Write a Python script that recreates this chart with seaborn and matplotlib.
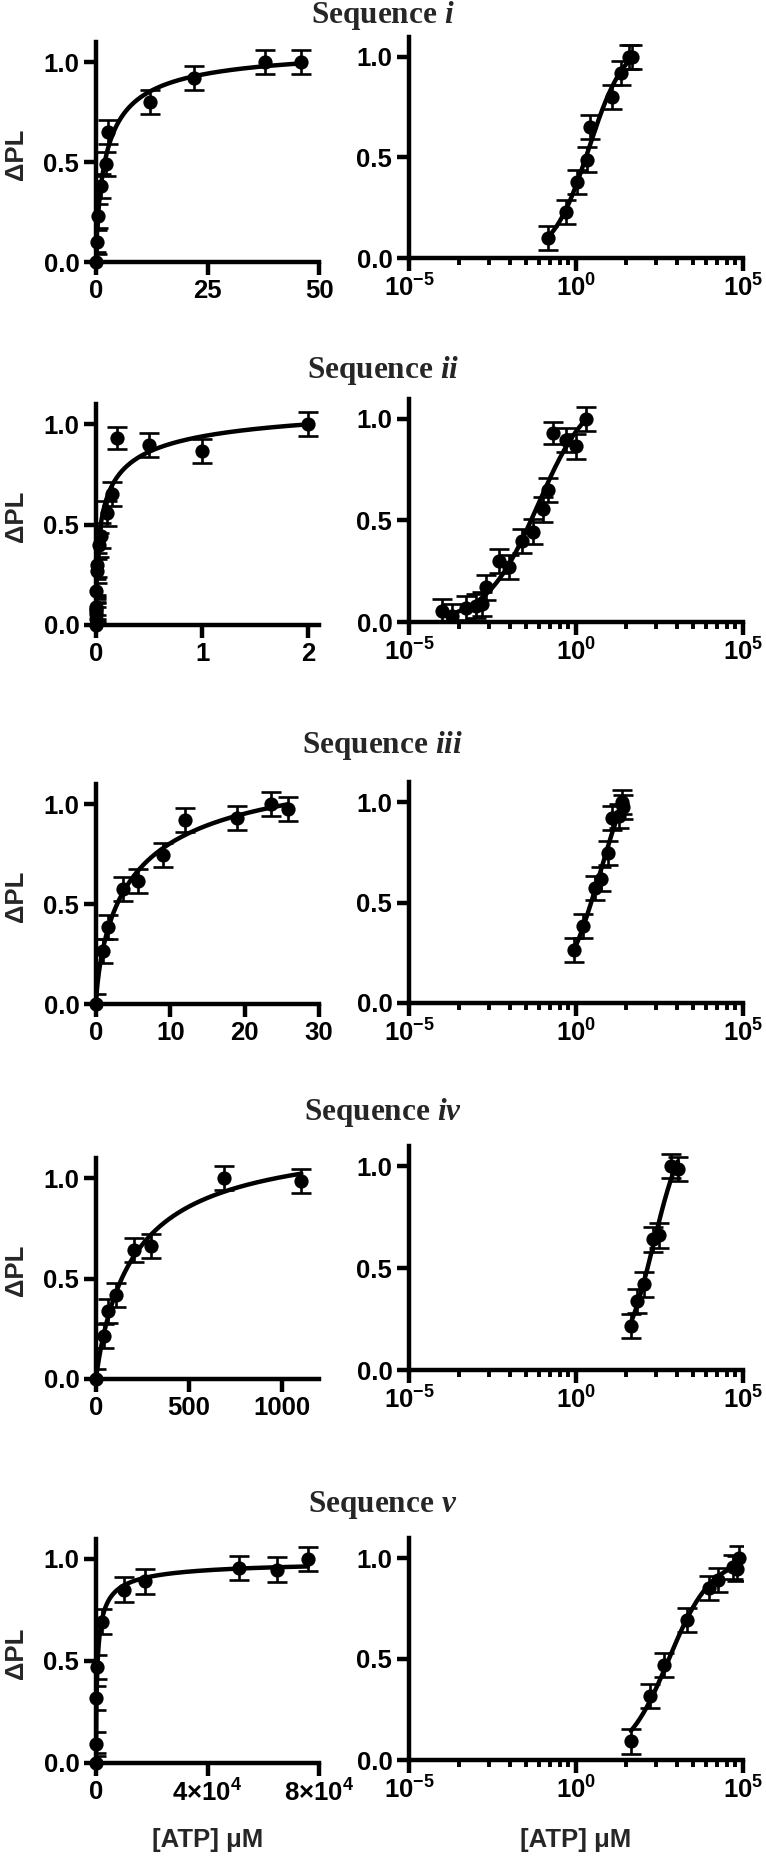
import numpy as np
import pandas as pd
import seaborn as sns
import matplotlib
matplotlib.use('Agg')
import matplotlib.pyplot as plt
from matplotlib.ticker import FixedLocator, NullFormatter

sns.set_theme(style='ticks')
plt.rcParams['font.family'] = ['Liberation Sans', 'DejaVu Sans']
plt.rcParams['font.weight'] = 'bold'
plt.rcParams['mathtext.fontset'] = 'custom'
plt.rcParams['mathtext.rm'] = 'Liberation Serif:bold'
plt.rcParams['mathtext.it'] = 'Liberation Serif:italic:bold'
plt.rcParams['mathtext.bf'] = 'Liberation Sans:bold'
plt.rcParams['mathtext.sf'] = 'Liberation Sans:bold'
plt.rcParams['mathtext.default'] = 'bf'

# ---- data ([ATP] in uM, normalised delta PL, error) ----
seq_names = ['i', 'ii', 'iii', 'iv', 'v']

atp_i = [0, 0.15, 0.5, 1.1, 2.2, 2.7, 12, 22, 38, 46]
pl_i = [0, 0.10, 0.23, 0.38, 0.49, 0.65, 0.80, 0.92, 1.0, 1.0]
err_i = [0.05, 0.06, 0.06, 0.06, 0.06, 0.06, 0.06, 0.06, 0.06, 0.06]

atp_ii = [0, 1e-4, 2e-4, 5e-4, 1e-3, 1.5e-3, 2e-3, 5e-3, 0.01, 0.025, 0.05, 0.1, 0.15, 0.2, 0.5, 1, 2]
pl_ii = [0, 0.055, 0.03, 0.07, 0.08, 0.09, 0.17, 0.30, 0.27, 0.40, 0.445, 0.555, 0.65, 0.93, 0.895, 0.865, 1.0]
err_ii = [0.05, 0.06, 0.06, 0.06, 0.06, 0.06, 0.06, 0.06, 0.06, 0.06, 0.06, 0.06, 0.06, 0.055, 0.06, 0.06, 0.06]

atp_iii = [0, 0.9, 1.6, 3.6, 5.6, 9.0, 12.0, 19.0, 23.5, 25.8]
pl_iii = [0, 0.265, 0.383, 0.573, 0.617, 0.745, 0.92, 0.93, 1.0, 0.975]
err_iii = [0.05, 0.06, 0.06, 0.06, 0.06, 0.06, 0.06, 0.06, 0.06, 0.06]

atp_iv = [0, 43, 65, 108, 205, 298, 690, 1105]
pl_iv = [0, 0.215, 0.337, 0.42, 0.64, 0.66, 1.0, 0.985]
err_iv = [0.05, 0.06, 0.06, 0.06, 0.06, 0.06, 0.06, 0.06]

atp_v = [0, 44, 166, 435, 2100, 9900, 17500, 51300, 64800, 76000]
pl_v = [0, 0.092, 0.318, 0.471, 0.693, 0.85, 0.89, 0.956, 0.948, 1.0]
err_v = [0.05, 0.06, 0.06, 0.06, 0.06, 0.06, 0.06, 0.06, 0.06, 0.06]

atp_all = [atp_i, atp_ii, atp_iii, atp_iv, atp_v]
pl_all = [pl_i, pl_ii, pl_iii, pl_iv, pl_v]
err_all = [err_i, err_ii, err_iii, err_iv, err_v]

lin_xlim = [50, 2.1, 30, 1200, 80000]
lin_ticks = [[0, 25, 50], [0, 1, 2], [0, 10, 20, 30], [0, 500, 1000], [0, 40000, 80000]]
lin_ticklabels = [['0', '25', '50'], ['0', '1', '2'], ['0', '10', '20', '30'],
                  ['0', '500', '1000'], ['0', r'$\mathbf{4{\times}10^{4}}$', r'$\mathbf{8{\times}10^{4}}$']]
log_ticklabels = [r'$\mathbf{10^{-5}}$', r'$\mathbf{10^{0}}$', r'$\mathbf{10^{5}}$']


def hill_fit(x, y):
    # least squares Hill fit (grid over Kd and n, Bmax solved linearly)
    x = np.asarray(x, float)
    y = np.asarray(y, float)
    logk = np.linspace(-5, 5, 501)[:, None, None]
    n = np.linspace(0.2, 2.5, 116)[None, :, None]
    xx = x[None, None, :]
    f = xx ** n / (10 ** (logk * n) + xx ** n)
    bmax = (f * y).sum(-1) / (f * f).sum(-1)
    sse = ((y - bmax[..., None] * f) ** 2).sum(-1)
    i, j = np.unravel_index(np.argmin(sse), sse.shape)
    return 10 ** logk[i, 0, 0], n[0, j, 0], bmax[i, j]


def hill(x, k, n, bmax):
    return bmax * x ** n / (k ** n + x ** n)


# ---- layout in pixels (y of value 0, y of value 1.0) ----
W, H = 766, 1857
left_x = (96, 319)
right_x = (409, 743)
left_y = [(262, 62), (625, 424), (1004, 804), (1379, 1178), (1763, 1559)]
right_y = [(258, 57), (622, 419), (1003, 802), (1370, 1166), (1760, 1558)]
title_base = [23, 378, 753, 1120, 1512]

fig = plt.figure(figsize=(W / 100, H / 100), dpi=100)


def make_ax(xpx, ypx):
    y0, y1 = ypx
    top = y0 - 1.1 * (y0 - y1)
    return fig.add_axes([xpx[0] / W, 1 - y0 / H, (xpx[1] - xpx[0]) / W, (y0 - top) / H])


def style_ax(ax):
    sns.despine(ax=ax)
    for s in ['left', 'bottom']:
        ax.spines[s].set_linewidth(3.2)
        ax.spines[s].set_color('black')
    ax.tick_params(which='major', length=9, width=3.2, color='black', labelsize=18.5,
                   pad=3, labelcolor='black')
    ax.tick_params(which='minor', length=5, width=2.8, color='black')
    ax.set_ylim(0, 1.1)
    ax.set_yticks([0, 0.5, 1.0])
    ax.set_yticklabels(['0.0', '0.5', '1.0'], fontweight='bold')
    ax.set_facecolor('white')
    ax.set_xlabel('')
    ax.set_ylabel('')


for r in range(5):
    x = np.array(atp_all[r], float)
    y = np.array(pl_all[r], float)
    e = np.array(err_all[r], float)
    k, n, bmax = hill_fit(x, y)

    # linear panel
    ax = make_ax(left_x, left_y[r])
    xc = np.linspace(0, x.max(), 600)
    sns.lineplot(x=xc, y=hill(xc, k, n, bmax), ax=ax, color='black', linewidth=3.2, zorder=2)
    ax.errorbar(x, y, yerr=e, fmt='none', ecolor='black', elinewidth=1.9,
                capsize=7, capthick=1.9, zorder=3)
    sns.scatterplot(x=x, y=y, ax=ax, color='black', s=105, linewidth=0, zorder=4, clip_on=False)
    style_ax(ax)
    ax.set_xlim(0, lin_xlim[r])
    ax.set_xticks(lin_ticks[r])
    ax.set_xticklabels(lin_ticklabels[r], fontweight='bold')

    # log panel
    ax = make_ax(right_x, right_y[r])
    ax.set_xscale('log')
    m = x > 0
    xl = np.logspace(np.log10(x[m].min()), np.log10(x[m].max()), 600)
    sns.lineplot(x=xl, y=hill(xl, k, n, bmax), ax=ax, color='black', linewidth=3.2, zorder=2)
    ax.errorbar(x[m], y[m], yerr=e[m], fmt='none', ecolor='black', elinewidth=1.9,
                capsize=7, capthick=1.9, zorder=3)
    sns.scatterplot(x=x[m], y=y[m], ax=ax, color='black', s=105, linewidth=0, zorder=4, clip_on=False)
    style_ax(ax)
    ax.set_xlim(1e-5, 1e5)
    ax.xaxis.set_major_locator(FixedLocator([1e-5, 1e0, 1e5]))
    ax.set_xticklabels(log_ticklabels)
    minors = [1e-5 * kk ** 5 for kk in range(2, 10)] + [1.0 * kk ** 5 for kk in range(2, 10)]
    ax.xaxis.set_minor_locator(FixedLocator(minors))
    ax.xaxis.set_minor_formatter(NullFormatter())

    # titles and labels
    fig.text(383 / W, 1 - title_base[r] / H, r'$\mathrm{Sequence}\ \mathit{' + seq_names[r] + '}$',
             ha='center', va='baseline', fontsize=22.5)
    y_mid = (left_y[r][0] + left_y[r][1]) / 2 - 8
    fig.text(16 / W, 1 - y_mid / H, 'ΔPL', rotation=90, ha='center', va='center',
             fontsize=18.5, fontweight='bold')

fig.text((left_x[0] + left_x[1]) / 2 / W, 1 - 1840 / H, '[ATP] μM', ha='center', va='center',
         fontsize=18.5, fontweight='bold')
fig.text((right_x[0] + right_x[1]) / 2 / W, 1 - 1840 / H, '[ATP] μM', ha='center', va='center',
         fontsize=18.5, fontweight='bold')

fig.savefig('out.png', dpi=100, facecolor='white')
